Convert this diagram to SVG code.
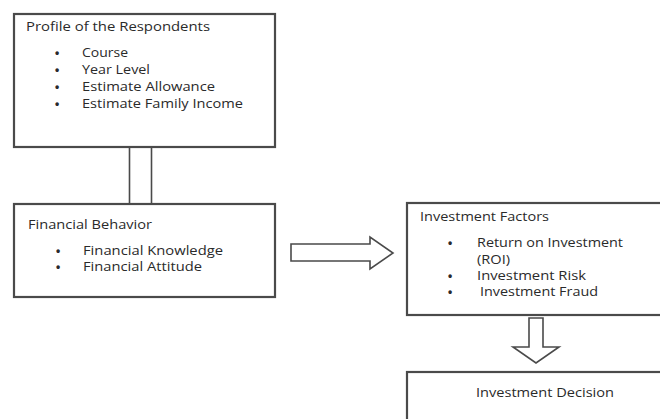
<svg xmlns="http://www.w3.org/2000/svg" width="660" height="419" viewBox="0 0 660 419">
<style>
.box{fill:#fff;stroke:#4a4a4a;stroke-width:2.2}
.arr{fill:#fff;stroke:#4a4a4a;stroke-width:1.6;stroke-linejoin:miter}
text{font-family:"Open Sans","Liberation Sans",sans-serif;font-size:12px;fill:#2a2a2a}
.b{font-family:"Liberation Sans",Arial,sans-serif;font-size:12px;font-weight:bold}
</style>
<rect width="660" height="419" fill="#fff"/>
<g id="connectors">
<rect class="arr" x="129.5" y="147" width="22" height="57"/>
<path class="arr" d="M291,244 H370 V237 L393,253 L370,269 V261 H291 Z"/>
<path class="arr" d="M529,318 H543 V347 H559 L536,363 L513,347 H529 Z"/>
</g>
<g id="profile">
<rect class="box" x="14" y="14" width="261" height="133"/>
<text x="26" y="31" textLength="184" lengthAdjust="spacingAndGlyphs">Profile of the Respondents</text>
<text class="b" x="55" y="57">•</text><text x="82" y="57" textLength="46" lengthAdjust="spacingAndGlyphs">Course</text>
<text class="b" x="55" y="74">•</text><text x="82" y="74" textLength="68" lengthAdjust="spacingAndGlyphs">Year Level</text>
<text class="b" x="55" y="91">•</text><text x="82" y="91" textLength="133" lengthAdjust="spacingAndGlyphs">Estimate Allowance</text>
<text class="b" x="55" y="108">•</text><text x="82" y="108" textLength="161" lengthAdjust="spacingAndGlyphs">Estimate Family Income</text>
</g>
<g id="behavior">
<rect class="box" x="14" y="204" width="261" height="93"/>
<text x="28" y="229" textLength="124" lengthAdjust="spacingAndGlyphs">Financial Behavior</text>
<text class="b" x="56" y="255">•</text><text x="83" y="255" textLength="140" lengthAdjust="spacingAndGlyphs">Financial Knowledge</text>
<text class="b" x="56" y="271">•</text><text x="83" y="271" textLength="119" lengthAdjust="spacingAndGlyphs">Financial Attitude</text>
</g>
<g id="factors">
<rect class="box" x="407" y="203" width="262" height="112"/>
<text x="420" y="221" textLength="129" lengthAdjust="spacingAndGlyphs">Investment Factors</text>
<text class="b" x="448" y="247">•</text><text x="477" y="247" textLength="146" lengthAdjust="spacingAndGlyphs">Return on Investment</text>
<text x="477" y="264" textLength="33" lengthAdjust="spacingAndGlyphs">(ROI)</text>
<text class="b" x="448" y="280">•</text><text x="477" y="280" textLength="109" lengthAdjust="spacingAndGlyphs">Investment Risk</text>
<text class="b" x="448" y="296">•</text><text x="480" y="296" textLength="118" lengthAdjust="spacingAndGlyphs">Investment Fraud</text>
</g>
<g id="decision">
<rect class="box" x="407" y="372" width="262" height="60"/>
<text x="476" y="397" textLength="138" lengthAdjust="spacingAndGlyphs">Investment Decision</text>
</g>
</svg>
